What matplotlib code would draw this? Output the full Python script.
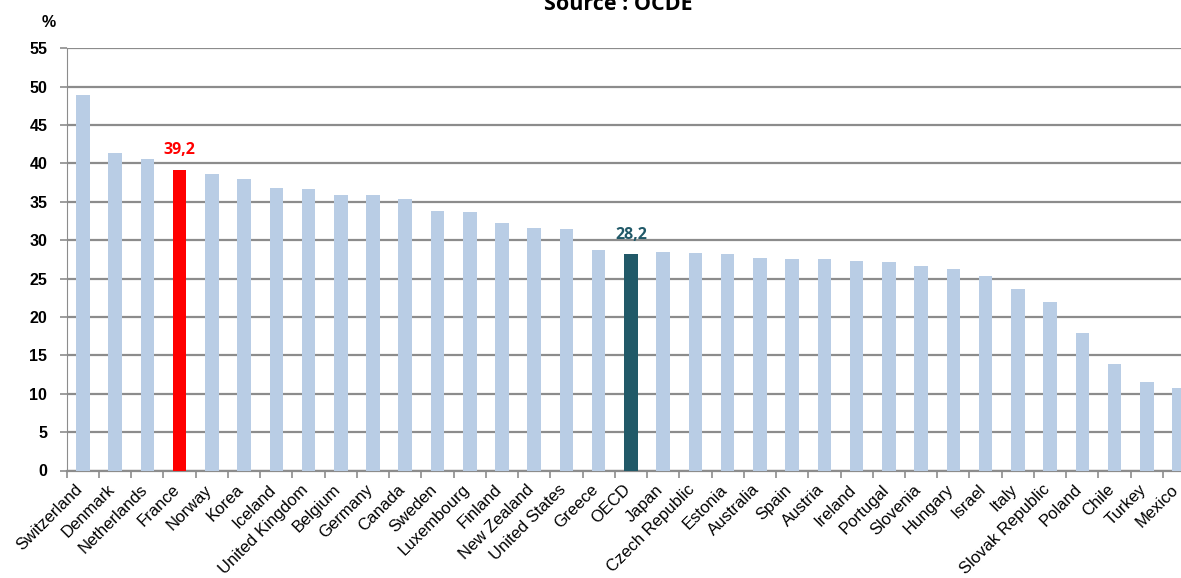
import matplotlib.pyplot as plt
import matplotlib.transforms as mtransforms
import numpy as np

# share of tax revenue in GDP, OECD countries
countries = ["Switzerland", "Denmark", "Netherlands", "France", "Norway", "Korea",
             "Iceland", "United Kingdom", "Belgium", "Germany", "Canada", "Sweden",
             "Luxembourg", "Finland", "New Zealand", "United States", "Greece", "OECD",
             "Japan", "Czech Republic", "Estonia", "Australia", "Spain", "Austria",
             "Ireland", "Portugal", "Slovenia", "Hungary", "Israel", "Italy",
             "Slovak Republic", "Poland", "Chile", "Turkey", "Mexico"]
values = [48.9, 41.3, 40.6, 39.2, 38.6, 38.0, 36.8, 36.7, 35.9, 35.9, 35.4, 33.8,
          33.7, 32.2, 31.6, 31.4, 28.7, 28.2, 28.5, 28.3, 28.2, 27.7, 27.6, 27.6,
          27.3, 27.2, 26.7, 26.2, 25.3, 23.6, 22.0, 17.9, 13.9, 11.5, 10.7]
highlight = {"France": ("#ff0000", "39,2"), "OECD": ("#215968", "28,2")}

base_color = "#b9cde5"
colors = [highlight[c][0] if c in highlight else base_color for c in countries]
x = np.arange(len(countries))

fig = plt.figure(figsize=(11.81, 5.78), dpi=100)
ax = fig.add_axes([66.7/1181, 1 - 470.5/578, 1 - 66.7/1181, (470.5 - 48.3)/578])

ax.bar(x, values, width=0.42, color=colors, zorder=3)

for c, v, xi in zip(countries, values, x):
    if c in highlight:
        col, lab = highlight[c]
        ax.text(xi, v + 1.5, lab, ha="center", va="bottom", color=col,
                fontsize=11.5, fontweight="bold", family="Open Sans")

ax.set_yticks(np.arange(0, 56, 5))
ax.yaxis.grid(True, color="#8c8c8c", linewidth=1.6, zorder=0)
ax.set_axisbelow(True)

for side in ["top", "right"]:
    ax.spines[side].set_visible(False)
ax.spines["left"].set_color("#8c8c8c")
ax.spines["bottom"].set_color("#8c8c8c")
ax.spines["bottom"].set_linewidth(1.6)

ax.set_xticks(x)
ax.set_xticklabels(countries, rotation=45, ha="right", rotation_mode="anchor",
                   fontsize=12, family="Liberation Sans")
ax.tick_params(axis="x", length=0, pad=6)
# nudge the rotated labels so they end under the bar centre
shift = mtransforms.ScaledTranslation(-8/100, -3/100, fig.dpi_scale_trans)
for lab in ax.get_xticklabels():
    lab.set_transform(lab.get_transform() + shift)
ax.set_xticks(np.arange(-0.5, 34.6, 1), minor=True)
ax.tick_params(axis="x", which="minor", length=5, color="#8c8c8c", width=1.2)
ax.tick_params(axis="y", length=5, color="#8c8c8c", width=1.2, pad=9)
for lab in ax.get_yticklabels():
    lab.set_fontweight("bold")
    lab.set_family("Liberation Sans")
    lab.set_fontsize(11.5)

# limits last, set_xticks would stretch them
ax.set_xlim(-0.5, 34.06)
ax.set_ylim(0, 55)

fig.text(48.7/1181, 1 - 22.5/578, "%", ha="center", va="center", fontsize=11.5,
         fontweight="bold", family="Liberation Sans")
fig.text(618/1181, 1 - 10/578, "Source : OCDE", ha="center", va="baseline",
         fontsize=15.5, fontweight="bold", family="Open Sans")

fig.savefig("out.png", dpi=100)
